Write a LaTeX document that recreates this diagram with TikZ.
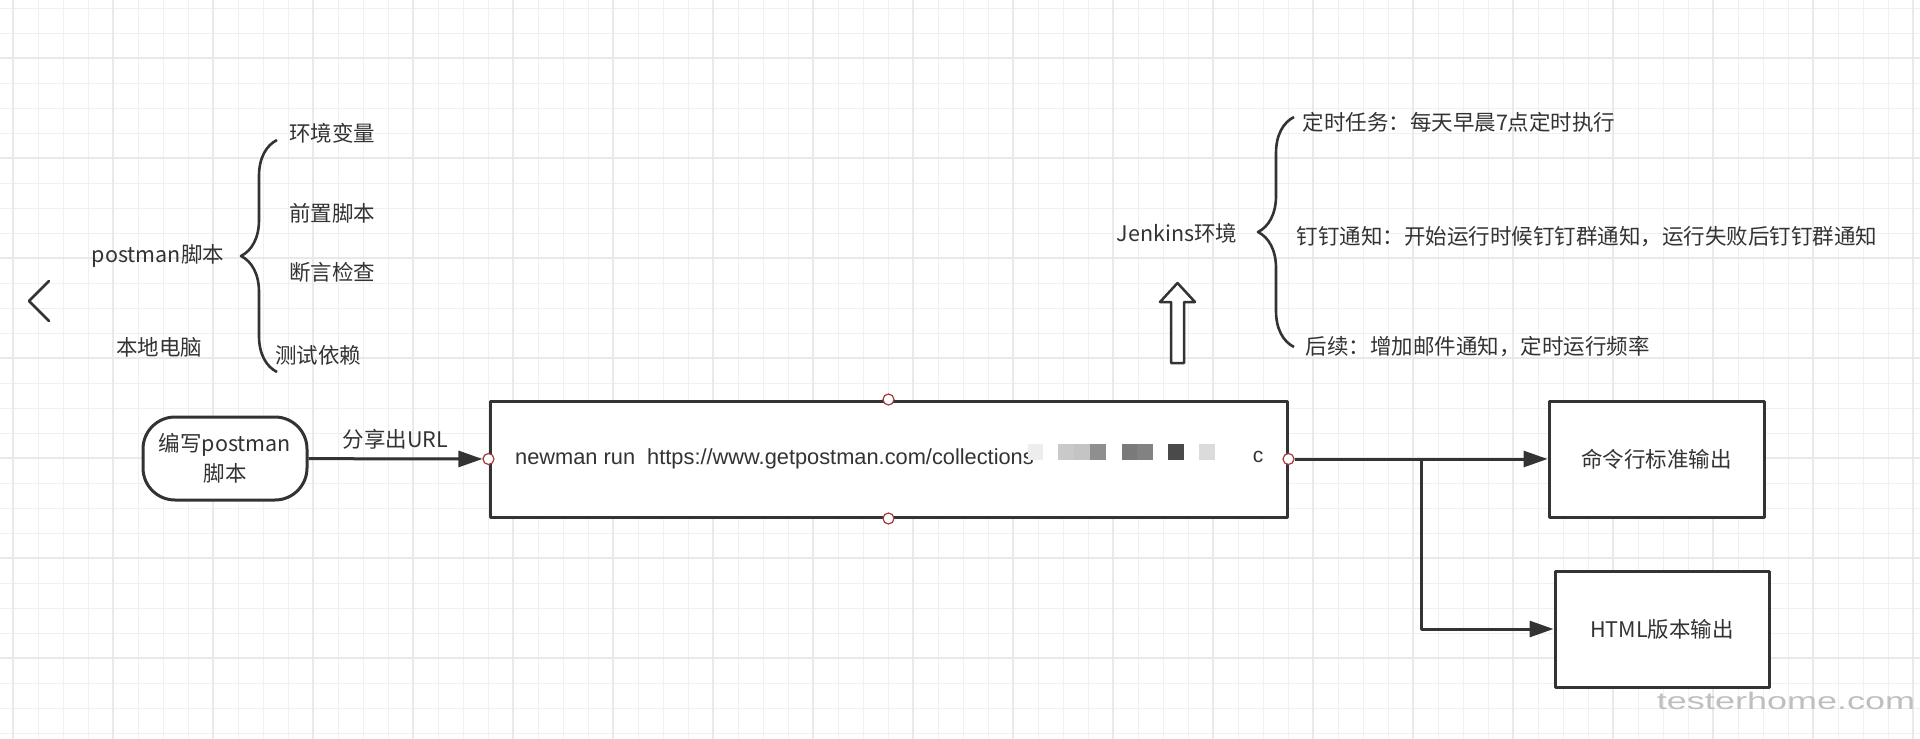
\documentclass[tikz,border=0pt]{standalone}
\usepackage{fontspec}
\setmainfont{Liberation Sans}
\newfontfamily\cjk{Noto Sans CJK SC}
\usetikzlibrary{arrows.meta,decorations.pathreplacing}
\definecolor{ink}{HTML}{333333}
\definecolor{gridc}{HTML}{F0F0F0}
\definecolor{gridd}{HTML}{E9E9E9}
\definecolor{portc}{HTML}{A33A3A}
\begin{document}
\begin{tikzpicture}[x=1pt,y=-1pt,line join=round,>={Triangle[length=24pt,width=16pt]}]
	\tikzset{every node/.style={text=ink,font=\cjk\fontsize{21.5}{30}\selectfont},
		box/.style={draw=ink,line width=3pt,fill=white,inner sep=0pt},
		port/.style={circle,draw=portc,fill=white,line width=1.2pt,minimum size=11pt,inner sep=0pt},
		link/.style={draw=ink,line width=3pt,->},
		curly/.style={draw=ink,line width=2.6pt,decorate,decoration={brace,amplitude=36pt}}}
	\useasboundingbox (0,0) rectangle (1920,739);
	\fill[white] (0,0) rectangle (1920,739);
	% grid paper
	\foreach \x in {13.3,38.3,...,1914} \draw[gridc,line width=1.5pt] (\x,0) -- (\x,739);
	\foreach \y in {8.3,33.3,...,739} \draw[gridc,line width=1.5pt] (0,\y) -- (1920,\y);
	\foreach \x in {13.3,113.3,...,1914} \draw[gridd,line width=2pt] (\x,0) -- (\x,739);
	\foreach \y in {58.3,158.3,...,739} \draw[gridd,line width=2pt] (0,\y) -- (1920,\y);
	\draw[ink,line width=2.5pt,line cap=round] (49,281) -- (29,301) -- (49,321);
	% local side
	\node (pm) at (158,256) {postman脚本};
	\node (loc) at (159,347) {本地电脑};
	\draw[curly] (277,372) -- (277,140);
	\node (env) at (332,133) {环境变量};
	\node (pre) at (332,213) {前置脚本};
	\node (asrt) at (332,272) {断言检查};
	\node (dep) at (318,355) {测试依赖};
	% jenkins side
	\node (jk) at (1177,233) {Jenkins环境};
	\draw[curly] (1294,347) -- (1294,117);
	\node[anchor=west] (cron) at (1299,122) {定时任务：每天早晨7点定时执行};
	\node[anchor=west] (ding) at (1293,237) {钉钉通知：开始运行时候钉钉群通知，运行失败后钉钉群通知};
	\node[anchor=west] (later) at (1302,347) {后续：增加邮件通知，定时运行频率};
	\draw[ink,line width=2.5pt,fill=white] (1177.5,283) -- (1195,302) -- (1184,302) -- (1184,363)
		-- (1171,363) -- (1171,302) -- (1160,302) -- cycle;
	% flow
	\node[box,rounded corners=32pt,minimum width=164pt,minimum height=83pt,align=center] (write) at (225,458.5) {编写postman\\脚本};
	\node[box,minimum width=797pt,minimum height=116pt] (run) at (888.5,459) {};
	\node[anchor=west,inner sep=0pt,font=\fontsize{21.8}{24}\selectfont] (cmd) at (515,459) {newman run\ \ https://www.getpostman.com/collections};
	\foreach \a/\b/\s in {1028/1043/7,1058/1074/21,1074/1090/23,1090/1106/44,1122/1137/52,1137/1153/49,1168/1184/71,1199/1215/14}
		\fill[black!\s] (\a,444) rectangle (\b,460);
	\node[font=\fontsize{21}{24}\selectfont] (tail) at (1258,457) {c};
	\node[port] (pw) at (run.west) {};
	\node[port] (pn) at (run.north) {};
	\node[port] (ps) at (run.south) {};
	\node[port] (pe) at (run.east) {};
	\node[box,minimum width=215pt,minimum height=116pt] (cli) at (1656.5,459) {命令行标准输出};
	\node[box,minimum width=214pt,minimum height=116pt] (html) at (1662,629) {HTML版本输出};
	\coordinate (fork) at (1421,459);
	\draw[link] (write) -- node[above=5pt] {分享出URL} (pw);
	\draw[link] (pe) -- (cli);
	\draw[link] (fork) |- (html);
	\node[text=black!25,font=\fontsize{24}{24}\selectfont,xscale=1.5] (mark) at (1786,701) {testerhome.com};
\end{tikzpicture}
\end{document}
